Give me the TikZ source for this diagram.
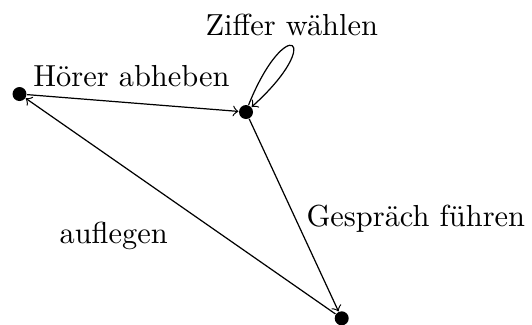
\documentclass[tikz,border=0pt]{standalone}
\begin{document}
\begin{tikzpicture}[x=0.3289pt,y=-0.3289pt,
  state/.style={circle,fill=black,inner sep=0pt,minimum size=4.6pt},
  lbl/.style={inner sep=0pt,anchor=base west},
  tr/.style={->,>=to,line width=0.4pt}]
\useasboundingbox (0,0) rectangle (532,324);
\node[state] (A) at (19.5,94) {};
\node[state] (B) at (246,112) {};
\node[state] (C) at (341.7,318.3) {};
\node[lbl] (la) at (32.8,86) {Hörer abheben};
\node[lbl] (lz) at (205,35.5) {Ziffer wählen};
\node[lbl] (lg) at (306,226) {Gespräch führen};
\node[lbl] (lf) at (59,243) {auflegen};
\draw[tr] (A) -- (B);
\draw[tr] (B) -- (C);
\draw[tr] (C) -- (A);
\draw[tr] (B.70) .. controls +(68:33pt) and +(42:33pt) .. (B.42);
\end{tikzpicture}
\end{document}
